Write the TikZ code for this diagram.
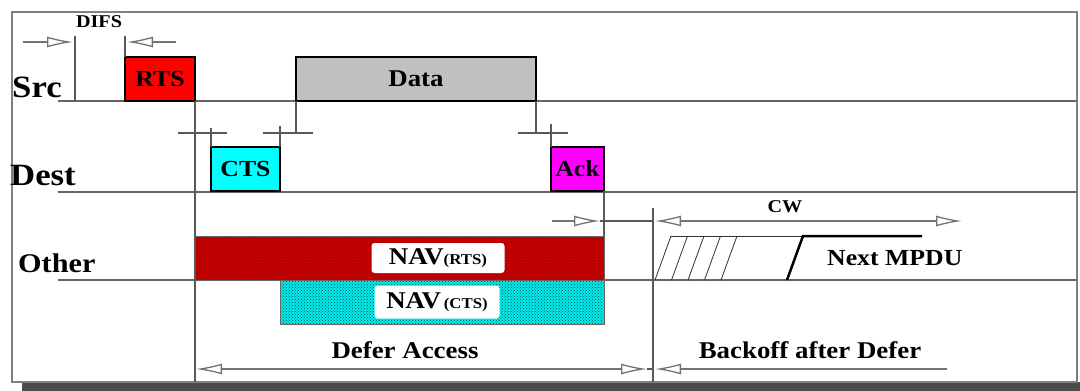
\documentclass[tikz,border=0pt]{standalone}
\usepackage{fontspec}
\setmainfont{Liberation Serif}[FakeStretch=1.12]
\usetikzlibrary{positioning, arrows.meta, calc, patterns}

\definecolor{navred}{RGB}{200,0,0}
\definecolor{navcyan}{RGB}{0,235,235}
\definecolor{sigred}{RGB}{255,0,0}
\definecolor{sigcyan}{RGB}{0,255,255}
\definecolor{sigmagenta}{RGB}{255,0,255}
\definecolor{siggray}{RGB}{192,192,192}

\begin{document}
\begin{tikzpicture}[
		x=1pt, y=-1pt,
		frame/.style={draw=black!50, line width=1.5pt},
		axis/.style={draw=black!60, line width=1.5pt},
		tick/.style={draw=black!65, line width=1.2pt},
		tip/.style={draw=black!55, line width=1.3pt, -{Latex[open, length=26pt, width=11pt]}},
		sigbox/.style={draw, line width=2.5pt, minimum height=44pt, inner sep=0pt, outer sep=0pt, anchor=south west, font=\fontsize{23}{23}\selectfont\bfseries},
		navbar/.style={draw=black!60, line width=0.6pt, minimum height=44pt, inner sep=0pt, outer sep=0pt, anchor=south west},
		navlbl/.style={fill=white, rounded corners=3pt, inner sep=0pt, minimum height=30pt},
		lbl/.style={font=\fontsize{#1}{#1}\selectfont\bfseries, inner sep=0pt}
		]
		\useasboundingbox (0,0) rectangle (1080,391);
		\fill[white] (0,0) rectangle (1080,391);
		
		% Frame
		\fill[black!70] (22,382) rectangle (1080,391);
		\draw[frame] (12,12) rectangle (1077,382);
		
		% Timelines
		\coordinate (src) at (58,101);
		\coordinate (dest) at (58,192);
		\coordinate (other) at (58,280);
		\draw[axis] (src) -- ++(1019,0);
		\draw[axis] (dest) -- ++(1019,0);
		\draw[axis] (other) -- ++(1019,0);
		
		\node[lbl=31, anchor=base west] (srclbl) at (12,97) {Src};
		\node[lbl=31, anchor=base west] (destlbl) at (10,185) {Dest};
		\node[lbl=27, anchor=base west] (otherlbl) at (18,272) {Other};
		
		% Frames on the medium
		\node[sigbox, fill=sigred, minimum width=70pt] (rts) at (125,101) {RTS};
		\node[sigbox, fill=siggray, minimum width=240pt, font=\fontsize{24}{24}\selectfont\bfseries] (data) at (296,101) {Data};
		\node[sigbox, fill=sigcyan, minimum width=69pt] (cts) at (211,191) {CTS};
		\node[sigbox, fill=sigmagenta, minimum width=53pt] (ack) at (551,191) {Ack};
		
		% NAV bars
		\node[navbar, preaction={fill=navred}, pattern=crosshatch dots, pattern color=navred!70!black, minimum width=409pt] (navrts) at (195,280) {};
		\node[navbar, preaction={fill=navcyan}, pattern=crosshatch dots, pattern color=teal!60!black, minimum width=324pt] (navcts) at (280,324) {};
		\node[navlbl, minimum width=133pt] (navrtslbl) at (438,258) {{\fontsize{24}{24}\selectfont\bfseries NAV}{\fontsize{15}{15}\selectfont\bfseries (RTS)}};
		\node[navlbl, minimum width=125pt, minimum height=33pt] (navctslbl) at (437,302) {{\fontsize{24}{24}\selectfont\bfseries NAV} {\fontsize{15}{15}\selectfont\bfseries (CTS)}};
		
		% DIFS
		\node[lbl=18] (difs) at (99,22) {DIFS};
		\draw[tick] (75,36) -- (75,101);
		\draw[tick] (rts.north west) -- ++(0,-21);
		\draw[tip] (23,42) -- (73,42);
		\draw[tip] (176,42) -- (127,42);
		
		% SIFS
		\draw[tick] (rts.south east) -- ++(0,281);
		\draw[tick] (178,133) -- (227,133);
		\draw[tick] (cts.north west) -- ++(0,-19);
		\draw[tick] (cts.north east) -- ++(0,-21);
		\draw[tick] (263,133) -- (313,133);
		\draw[tick] (data.south west) -- ++(0,32);
		\draw[tick] (data.south east) -- ++(0,32);
		\draw[tick] (518,133) -- (568,133);
		\draw[tick] (ack.north west) -- ++(0,-23);
		\draw[tick] (ack.south east) -- (navrts.north east);
		\draw[tick] (653,208) -- (653,382);
		
		% CW
		\draw[tip] (552,221) -- (600,221);
		\draw[tick] (600,221) -- (653,221);
		\draw[tip] (720,221) -- (655,221);
		\draw[tip] (700,221) -- (962,221);
		\node[lbl=18] (cw) at (785,207) {CW};
		
		% Backoff slots
		\foreach \i in {0,...,4}
			\draw[black!80, line width=0.8pt] ({655+16.5*\i},280) -- ++(16,-44);
		\draw[black!80, line width=0.8pt] (671,236) -- (803,236);
		\draw[line width=2.5pt] (787,280) -- (803,236) -- (922,236);
		\node[lbl=23, anchor=base west] (mpdu) at (827,265) {Next MPDU};
		
		% Defer and backoff
		\draw[tip] (420,369) -- (196,369);
		\draw[tip] (420,369) -- (647,369);
		\draw[tick] (647,369) -- (653,369);
		\draw[tip] (947,369) -- (655,369);
		\node[lbl=24, anchor=base] (defer) at (405,358) {Defer Access};
		\node[lbl=24, anchor=base] (backoff) at (810,358) {Backoff after Defer};
		
	\end{tikzpicture}
\end{document}
